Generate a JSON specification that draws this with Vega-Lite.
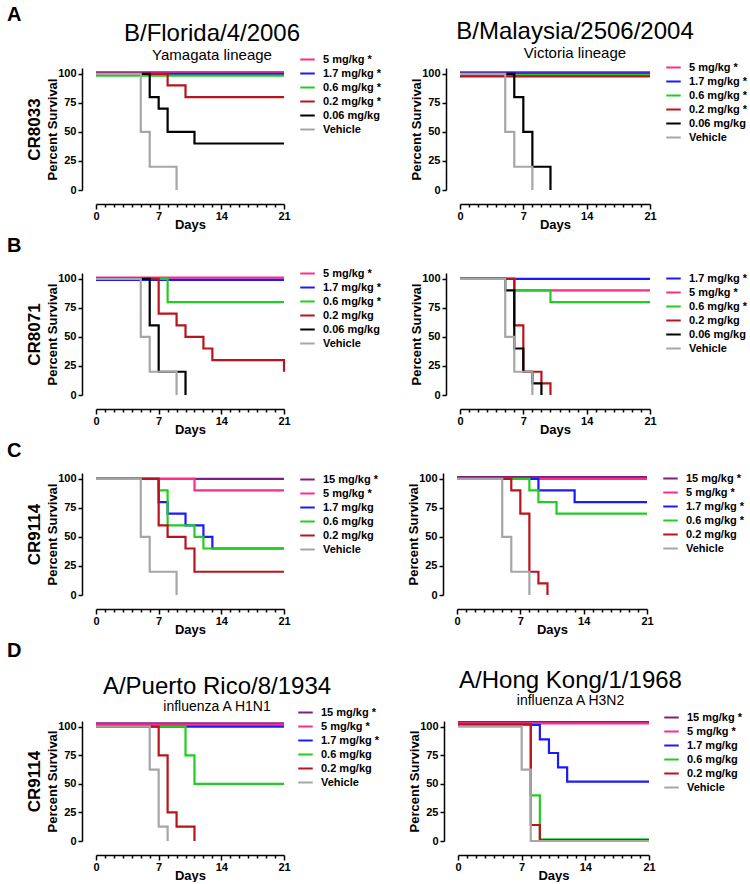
{
  "$schema": "https://vega.github.io/schema/vega-lite/v6.json",
  "background": "white",
  "padding": {"left": 7, "top": 5, "right": 0, "bottom": 0},
  "config": {
    "view": {"stroke": null},
    "font": "Liberation Sans",
    "axis": {"grid": false, "domainColor": "black", "domainWidth": 1.5, "tickColor": "black", "tickWidth": 1.5, "labelFont": "Liberation Sans", "labelFontWeight": "bold", "labelFontSize": 11, "labelColor": "black", "titleFont": "Liberation Sans", "titleFontWeight": "bold", "titleFontSize": 13, "titleColor": "black"},
    "legend": {"title": null, "orient": "none", "symbolType": "stroke", "symbolSize": 210, "symbolStrokeWidth": 2, "labelFont": "Liberation Sans", "labelFontWeight": "bold", "labelFontSize": 11, "labelColor": "black", "labelOffset": 7, "rowPadding": 0, "padding": 0},
    "title": {"font": "Liberation Sans", "color": "black", "subtitleFont": "Liberation Sans", "subtitleColor": "black"}
  },
  "datasets": {
    "km": [
      {"panel": "A1", "group": "5 mg/kg *", "day": 0, "pct": 101.5}, {"panel": "A1", "group": "5 mg/kg *", "day": 21, "pct": 101.5},
      {"panel": "A1", "group": "1.7 mg/kg *", "day": 0, "pct": 100}, {"panel": "A1", "group": "1.7 mg/kg *", "day": 21, "pct": 100},
      {"panel": "A1", "group": "0.6 mg/kg *", "day": 0, "pct": 98.5}, {"panel": "A1", "group": "0.6 mg/kg *", "day": 21, "pct": 98.5},
      {"panel": "A1", "group": "0.2 mg/kg *", "day": 0, "pct": 100}, {"panel": "A1", "group": "0.2 mg/kg *", "day": 8, "pct": 90}, {"panel": "A1", "group": "0.2 mg/kg *", "day": 10, "pct": 80}, {"panel": "A1", "group": "0.2 mg/kg *", "day": 21, "pct": 80},
      {"panel": "A1", "group": "0.06 mg/kg", "day": 0, "pct": 100}, {"panel": "A1", "group": "0.06 mg/kg", "day": 6, "pct": 80}, {"panel": "A1", "group": "0.06 mg/kg", "day": 7, "pct": 70}, {"panel": "A1", "group": "0.06 mg/kg", "day": 8, "pct": 50}, {"panel": "A1", "group": "0.06 mg/kg", "day": 11, "pct": 40}, {"panel": "A1", "group": "0.06 mg/kg", "day": 21, "pct": 40},
      {"panel": "A1", "group": "Vehicle", "day": 0, "pct": 100}, {"panel": "A1", "group": "Vehicle", "day": 5, "pct": 50}, {"panel": "A1", "group": "Vehicle", "day": 6, "pct": 20}, {"panel": "A1", "group": "Vehicle", "day": 9, "pct": 0},

      {"panel": "A2", "group": "5 mg/kg *", "day": 0, "pct": 101.5}, {"panel": "A2", "group": "5 mg/kg *", "day": 21, "pct": 101.5},
      {"panel": "A2", "group": "1.7 mg/kg *", "day": 0, "pct": 100.5}, {"panel": "A2", "group": "1.7 mg/kg *", "day": 21, "pct": 100.5},
      {"panel": "A2", "group": "0.6 mg/kg *", "day": 0, "pct": 99}, {"panel": "A2", "group": "0.6 mg/kg *", "day": 21, "pct": 99},
      {"panel": "A2", "group": "0.2 mg/kg *", "day": 0, "pct": 97.8}, {"panel": "A2", "group": "0.2 mg/kg *", "day": 21, "pct": 97.8},
      {"panel": "A2", "group": "0.06 mg/kg", "day": 0, "pct": 100}, {"panel": "A2", "group": "0.06 mg/kg", "day": 6, "pct": 80}, {"panel": "A2", "group": "0.06 mg/kg", "day": 7, "pct": 50}, {"panel": "A2", "group": "0.06 mg/kg", "day": 8, "pct": 20}, {"panel": "A2", "group": "0.06 mg/kg", "day": 10, "pct": 0},
      {"panel": "A2", "group": "Vehicle", "day": 0, "pct": 100}, {"panel": "A2", "group": "Vehicle", "day": 5, "pct": 50}, {"panel": "A2", "group": "Vehicle", "day": 6, "pct": 20}, {"panel": "A2", "group": "Vehicle", "day": 8, "pct": 0},

      {"panel": "B1", "group": "5 mg/kg *", "day": 0, "pct": 101}, {"panel": "B1", "group": "5 mg/kg *", "day": 21, "pct": 101},
      {"panel": "B1", "group": "1.7 mg/kg *", "day": 0, "pct": 99}, {"panel": "B1", "group": "1.7 mg/kg *", "day": 21, "pct": 99},
      {"panel": "B1", "group": "0.6 mg/kg *", "day": 0, "pct": 100}, {"panel": "B1", "group": "0.6 mg/kg *", "day": 8, "pct": 80}, {"panel": "B1", "group": "0.6 mg/kg *", "day": 21, "pct": 80},
      {"panel": "B1", "group": "0.2 mg/kg", "day": 0, "pct": 100}, {"panel": "B1", "group": "0.2 mg/kg", "day": 7, "pct": 70}, {"panel": "B1", "group": "0.2 mg/kg", "day": 9, "pct": 60}, {"panel": "B1", "group": "0.2 mg/kg", "day": 10, "pct": 50}, {"panel": "B1", "group": "0.2 mg/kg", "day": 12, "pct": 40}, {"panel": "B1", "group": "0.2 mg/kg", "day": 13, "pct": 30}, {"panel": "B1", "group": "0.2 mg/kg", "day": 21, "pct": 20},
      {"panel": "B1", "group": "0.06 mg/kg", "day": 0, "pct": 100}, {"panel": "B1", "group": "0.06 mg/kg", "day": 6, "pct": 60}, {"panel": "B1", "group": "0.06 mg/kg", "day": 7, "pct": 20}, {"panel": "B1", "group": "0.06 mg/kg", "day": 10, "pct": 0},
      {"panel": "B1", "group": "Vehicle", "day": 0, "pct": 100}, {"panel": "B1", "group": "Vehicle", "day": 5, "pct": 50}, {"panel": "B1", "group": "Vehicle", "day": 6, "pct": 20}, {"panel": "B1", "group": "Vehicle", "day": 9, "pct": 0},

      {"panel": "B2", "group": "1.7 mg/kg *", "day": 0, "pct": 100}, {"panel": "B2", "group": "1.7 mg/kg *", "day": 21, "pct": 100},
      {"panel": "B2", "group": "5 mg/kg *", "day": 0, "pct": 100}, {"panel": "B2", "group": "5 mg/kg *", "day": 6, "pct": 90}, {"panel": "B2", "group": "5 mg/kg *", "day": 21, "pct": 90},
      {"panel": "B2", "group": "0.6 mg/kg *", "day": 0, "pct": 100}, {"panel": "B2", "group": "0.6 mg/kg *", "day": 6, "pct": 90}, {"panel": "B2", "group": "0.6 mg/kg *", "day": 10, "pct": 80}, {"panel": "B2", "group": "0.6 mg/kg *", "day": 21, "pct": 80},
      {"panel": "B2", "group": "0.2 mg/kg", "day": 0, "pct": 100}, {"panel": "B2", "group": "0.2 mg/kg", "day": 6, "pct": 60}, {"panel": "B2", "group": "0.2 mg/kg", "day": 7, "pct": 20}, {"panel": "B2", "group": "0.2 mg/kg", "day": 9, "pct": 10}, {"panel": "B2", "group": "0.2 mg/kg", "day": 10, "pct": 0},
      {"panel": "B2", "group": "0.06 mg/kg", "day": 0, "pct": 100}, {"panel": "B2", "group": "0.06 mg/kg", "day": 5, "pct": 90}, {"panel": "B2", "group": "0.06 mg/kg", "day": 6, "pct": 40}, {"panel": "B2", "group": "0.06 mg/kg", "day": 7, "pct": 20}, {"panel": "B2", "group": "0.06 mg/kg", "day": 8, "pct": 10}, {"panel": "B2", "group": "0.06 mg/kg", "day": 9, "pct": 0},
      {"panel": "B2", "group": "Vehicle", "day": 0, "pct": 100}, {"panel": "B2", "group": "Vehicle", "day": 5, "pct": 50}, {"panel": "B2", "group": "Vehicle", "day": 6, "pct": 20}, {"panel": "B2", "group": "Vehicle", "day": 8, "pct": 0},

      {"panel": "C1", "group": "15 mg/kg *", "day": 0, "pct": 100}, {"panel": "C1", "group": "15 mg/kg *", "day": 21, "pct": 100},
      {"panel": "C1", "group": "5 mg/kg *", "day": 0, "pct": 100}, {"panel": "C1", "group": "5 mg/kg *", "day": 11, "pct": 90}, {"panel": "C1", "group": "5 mg/kg *", "day": 21, "pct": 90},
      {"panel": "C1", "group": "1.7 mg/kg", "day": 0, "pct": 100}, {"panel": "C1", "group": "1.7 mg/kg", "day": 7, "pct": 80}, {"panel": "C1", "group": "1.7 mg/kg", "day": 8, "pct": 70}, {"panel": "C1", "group": "1.7 mg/kg", "day": 10, "pct": 60}, {"panel": "C1", "group": "1.7 mg/kg", "day": 12, "pct": 50}, {"panel": "C1", "group": "1.7 mg/kg", "day": 13, "pct": 40}, {"panel": "C1", "group": "1.7 mg/kg", "day": 21, "pct": 40},
      {"panel": "C1", "group": "0.6 mg/kg", "day": 0, "pct": 100}, {"panel": "C1", "group": "0.6 mg/kg", "day": 7, "pct": 90}, {"panel": "C1", "group": "0.6 mg/kg", "day": 8, "pct": 60}, {"panel": "C1", "group": "0.6 mg/kg", "day": 11, "pct": 50}, {"panel": "C1", "group": "0.6 mg/kg", "day": 12, "pct": 40}, {"panel": "C1", "group": "0.6 mg/kg", "day": 21, "pct": 40},
      {"panel": "C1", "group": "0.2 mg/kg", "day": 0, "pct": 100}, {"panel": "C1", "group": "0.2 mg/kg", "day": 7, "pct": 60}, {"panel": "C1", "group": "0.2 mg/kg", "day": 8, "pct": 50}, {"panel": "C1", "group": "0.2 mg/kg", "day": 10, "pct": 40}, {"panel": "C1", "group": "0.2 mg/kg", "day": 11, "pct": 20}, {"panel": "C1", "group": "0.2 mg/kg", "day": 21, "pct": 20},
      {"panel": "C1", "group": "Vehicle", "day": 0, "pct": 100}, {"panel": "C1", "group": "Vehicle", "day": 5, "pct": 50}, {"panel": "C1", "group": "Vehicle", "day": 6, "pct": 20}, {"panel": "C1", "group": "Vehicle", "day": 9, "pct": 0},

      {"panel": "C2", "group": "15 mg/kg *", "day": 0, "pct": 101.5}, {"panel": "C2", "group": "15 mg/kg *", "day": 21, "pct": 101.5},
      {"panel": "C2", "group": "5 mg/kg *", "day": 0, "pct": 100}, {"panel": "C2", "group": "5 mg/kg *", "day": 21, "pct": 100},
      {"panel": "C2", "group": "1.7 mg/kg *", "day": 0, "pct": 100}, {"panel": "C2", "group": "1.7 mg/kg *", "day": 9, "pct": 90}, {"panel": "C2", "group": "1.7 mg/kg *", "day": 13, "pct": 80}, {"panel": "C2", "group": "1.7 mg/kg *", "day": 21, "pct": 80},
      {"panel": "C2", "group": "0.6 mg/kg *", "day": 0, "pct": 100}, {"panel": "C2", "group": "0.6 mg/kg *", "day": 8, "pct": 90}, {"panel": "C2", "group": "0.6 mg/kg *", "day": 9, "pct": 80}, {"panel": "C2", "group": "0.6 mg/kg *", "day": 11, "pct": 70}, {"panel": "C2", "group": "0.6 mg/kg *", "day": 21, "pct": 70},
      {"panel": "C2", "group": "0.2 mg/kg", "day": 0, "pct": 100}, {"panel": "C2", "group": "0.2 mg/kg", "day": 6, "pct": 90}, {"panel": "C2", "group": "0.2 mg/kg", "day": 7, "pct": 70}, {"panel": "C2", "group": "0.2 mg/kg", "day": 8, "pct": 20}, {"panel": "C2", "group": "0.2 mg/kg", "day": 9, "pct": 10}, {"panel": "C2", "group": "0.2 mg/kg", "day": 10, "pct": 0},
      {"panel": "C2", "group": "Vehicle", "day": 0, "pct": 100}, {"panel": "C2", "group": "Vehicle", "day": 5, "pct": 50}, {"panel": "C2", "group": "Vehicle", "day": 6, "pct": 20}, {"panel": "C2", "group": "Vehicle", "day": 8, "pct": 0},

      {"panel": "D1", "group": "15 mg/kg *", "day": 0, "pct": 103}, {"panel": "D1", "group": "15 mg/kg *", "day": 21, "pct": 103},
      {"panel": "D1", "group": "5 mg/kg *", "day": 0, "pct": 101.8}, {"panel": "D1", "group": "5 mg/kg *", "day": 21, "pct": 101.8},
      {"panel": "D1", "group": "1.7 mg/kg *", "day": 0, "pct": 100}, {"panel": "D1", "group": "1.7 mg/kg *", "day": 21, "pct": 100},
      {"panel": "D1", "group": "0.6 mg/kg", "day": 0, "pct": 100}, {"panel": "D1", "group": "0.6 mg/kg", "day": 10, "pct": 75}, {"panel": "D1", "group": "0.6 mg/kg", "day": 11, "pct": 50}, {"panel": "D1", "group": "0.6 mg/kg", "day": 21, "pct": 50},
      {"panel": "D1", "group": "0.2 mg/kg", "day": 0, "pct": 100}, {"panel": "D1", "group": "0.2 mg/kg", "day": 7, "pct": 75}, {"panel": "D1", "group": "0.2 mg/kg", "day": 8, "pct": 25}, {"panel": "D1", "group": "0.2 mg/kg", "day": 9, "pct": 12.5}, {"panel": "D1", "group": "0.2 mg/kg", "day": 11, "pct": 0},
      {"panel": "D1", "group": "Vehicle", "day": 0, "pct": 100}, {"panel": "D1", "group": "Vehicle", "day": 6, "pct": 62.5}, {"panel": "D1", "group": "Vehicle", "day": 7, "pct": 12.5}, {"panel": "D1", "group": "Vehicle", "day": 8, "pct": 0},

      {"panel": "D2", "group": "15 mg/kg *", "day": 0, "pct": 104}, {"panel": "D2", "group": "15 mg/kg *", "day": 21, "pct": 104},
      {"panel": "D2", "group": "5 mg/kg *", "day": 0, "pct": 103}, {"panel": "D2", "group": "5 mg/kg *", "day": 21, "pct": 103},
      {"panel": "D2", "group": "1.7 mg/kg", "day": 0, "pct": 101.5}, {"panel": "D2", "group": "1.7 mg/kg", "day": 9, "pct": 89}, {"panel": "D2", "group": "1.7 mg/kg", "day": 10, "pct": 77}, {"panel": "D2", "group": "1.7 mg/kg", "day": 11, "pct": 64.5}, {"panel": "D2", "group": "1.7 mg/kg", "day": 12, "pct": 52}, {"panel": "D2", "group": "1.7 mg/kg", "day": 21, "pct": 52},
      {"panel": "D2", "group": "0.6 mg/kg", "day": 0, "pct": 101.5}, {"panel": "D2", "group": "0.6 mg/kg", "day": 8, "pct": 40}, {"panel": "D2", "group": "0.6 mg/kg", "day": 9, "pct": 1.5}, {"panel": "D2", "group": "0.6 mg/kg", "day": 21, "pct": 1.5},
      {"panel": "D2", "group": "0.2 mg/kg", "day": 0, "pct": 102}, {"panel": "D2", "group": "0.2 mg/kg", "day": 8, "pct": 14}, {"panel": "D2", "group": "0.2 mg/kg", "day": 9, "pct": 0.8}, {"panel": "D2", "group": "0.2 mg/kg", "day": 21, "pct": 0.8},
      {"panel": "D2", "group": "Vehicle", "day": 0, "pct": 100}, {"panel": "D2", "group": "Vehicle", "day": 7, "pct": 62.5}, {"panel": "D2", "group": "Vehicle", "day": 8, "pct": 0}, {"panel": "D2", "group": "Vehicle", "day": 21, "pct": 0}
    ]
  },
  "data": {"name": "km"},
  "resolve": {"scale": {"color": "independent", "x": "independent", "y": "independent"}, "legend": {"color": "independent"}},
  "spacing": 5,
  "vconcat": [
    {
      "title": {"text": "A", "anchor": "start", "fontSize": 20, "fontWeight": "bold", "offset": -5, "dx": -18},
      "resolve": {"scale": {"color": "independent", "x": "independent", "y": "independent"}, "legend": {"color": "independent"}},
      "spacing": 28,
      "hconcat": [
        {
          "width": 188, "height": 122,
          "title": {"text": "B/Florida/4/2006", "subtitle": "Yamagata lineage", "fontSize": 24, "fontWeight": "normal", "subtitleFontSize": 15, "anchor": "middle", "frame": "group", "dx": 22, "offset": -12, "subtitlePadding": 2},
          "transform": [{"filter": "datum.panel === 'A1'"}],
          "layer": [
            {
              "mark": {"type": "line", "interpolate": "step-after", "strokeWidth": 2.2},
              "encoding": {
                "x": {"field": "day", "type": "quantitative", "scale": {"domain": [0, 21], "nice": false}, "axis": {"values": [0,1,2,3,4,5,6,7,8,9,10,11,12,13,14,15,16,17,18,19,20,21], "labelExpr": "datum.value % 7 === 0 ? datum.label : ''", "tickSize": {"condition": {"test": "datum.value % 7 === 0", "value": 5}, "value": 3}, "title": "Days", "labelOverlap": false, "labelFlush": false, "offset": 14, "titlePadding": -3, "labelPadding": 1}},
                "y": {"field": "pct", "type": "quantitative", "scale": {"domain": [0, 105], "nice": false}, "axis": {"values": [0, 25, 50, 75, 100], "title": "Percent Survival", "tickSize": 4, "labelPadding": 2, "offset": 14, "titlePadding": -2}},
                "color": {"field": "group", "type": "nominal", "scale": {"domain": ["5 mg/kg *", "1.7 mg/kg *", "0.6 mg/kg *", "0.2 mg/kg *", "0.06 mg/kg", "Vehicle"], "range": ["#FF2D87", "#1A1AFF", "#22CC22", "#B8141C", "#000000", "#A6A6A6"]}, "legend": {"legendX": 203, "legendY": -17}}
              }
            },
            {
              "mark": {"type": "point", "opacity": 0},
              "encoding": {"y": {"field": "pct", "type": "quantitative", "scale": {"domain": [0, 105], "nice": false}, "axis": {"orient": "left", "title": "CR8033", "titleFontSize": 17, "labels": false, "ticks": false, "domain": false, "offset": 0, "titlePadding": 53}}}
            }
          ],
          "resolve": {"scale": {"y": "independent"}}
        },
        {
          "width": 190, "height": 122,
          "title": {"text": "B/Malaysia/2506/2004", "subtitle": "Victoria lineage", "fontSize": 24, "fontWeight": "normal", "subtitleFontSize": 15, "anchor": "middle", "frame": "group", "dx": 20, "offset": -2, "subtitlePadding": 2},
          "transform": [{"filter": "datum.panel === 'A2'"}],
          "mark": {"type": "line", "interpolate": "step-after", "strokeWidth": 2.2},
          "encoding": {
            "x": {"field": "day", "type": "quantitative", "scale": {"domain": [0, 21], "nice": false}, "axis": {"values": [0,1,2,3,4,5,6,7,8,9,10,11,12,13,14,15,16,17,18,19,20,21], "labelExpr": "datum.value % 7 === 0 ? datum.label : ''", "tickSize": {"condition": {"test": "datum.value % 7 === 0", "value": 5}, "value": 3}, "title": "Days", "labelOverlap": false, "labelFlush": false, "offset": 14, "titlePadding": -3, "labelPadding": 1}},
            "y": {"field": "pct", "type": "quantitative", "scale": {"domain": [0, 105], "nice": false}, "axis": {"values": [0, 25, 50, 75, 100], "title": "Percent Survival", "tickSize": 4, "labelPadding": 2, "offset": 14, "titlePadding": -2}},
            "color": {"field": "group", "type": "nominal", "scale": {"domain": ["5 mg/kg *", "1.7 mg/kg *", "0.6 mg/kg *", "0.2 mg/kg *", "0.06 mg/kg", "Vehicle"], "range": ["#FF2D87", "#1A1AFF", "#22CC22", "#B8141C", "#000000", "#A6A6A6"]}, "legend": {"legendX": 205, "legendY": -9}}
          }
        }
      ]
    },
    {
      "title": {"text": "B", "anchor": "start", "fontSize": 20, "fontWeight": "bold", "offset": 9, "dx": -18},
      "resolve": {"scale": {"color": "independent", "x": "independent", "y": "independent"}, "legend": {"color": "independent"}},
      "spacing": 28,
      "hconcat": [
        {
          "width": 188, "height": 122,
          "transform": [{"filter": "datum.panel === 'B1'"}],
          "layer": [
            {
              "mark": {"type": "line", "interpolate": "step-after", "strokeWidth": 2.2},
              "encoding": {
                "x": {"field": "day", "type": "quantitative", "scale": {"domain": [0, 21], "nice": false}, "axis": {"values": [0,1,2,3,4,5,6,7,8,9,10,11,12,13,14,15,16,17,18,19,20,21], "labelExpr": "datum.value % 7 === 0 ? datum.label : ''", "tickSize": {"condition": {"test": "datum.value % 7 === 0", "value": 5}, "value": 3}, "title": "Days", "labelOverlap": false, "labelFlush": false, "offset": 14, "titlePadding": -3, "labelPadding": 1}},
                "y": {"field": "pct", "type": "quantitative", "scale": {"domain": [0, 105], "nice": false}, "axis": {"values": [0, 25, 50, 75, 100], "title": "Percent Survival", "tickSize": 4, "labelPadding": 2, "offset": 14, "titlePadding": -2}},
                "color": {"field": "group", "type": "nominal", "scale": {"domain": ["5 mg/kg *", "1.7 mg/kg *", "0.6 mg/kg *", "0.2 mg/kg", "0.06 mg/kg", "Vehicle"], "range": ["#FF2D87", "#1A1AFF", "#22CC22", "#B8141C", "#000000", "#A6A6A6"]}, "legend": {"legendX": 203, "legendY": -8}}
              }
            },
            {
              "mark": {"type": "point", "opacity": 0},
              "encoding": {"y": {"field": "pct", "type": "quantitative", "scale": {"domain": [0, 105], "nice": false}, "axis": {"orient": "left", "title": "CR8071", "titleFontSize": 17, "labels": false, "ticks": false, "domain": false, "offset": 0, "titlePadding": 53}}}
            }
          ],
          "resolve": {"scale": {"y": "independent"}}
        },
        {
          "width": 190, "height": 122,
          "transform": [{"filter": "datum.panel === 'B2'"}],
          "mark": {"type": "line", "interpolate": "step-after", "strokeWidth": 2.2},
          "encoding": {
            "x": {"field": "day", "type": "quantitative", "scale": {"domain": [0, 21], "nice": false}, "axis": {"values": [0,1,2,3,4,5,6,7,8,9,10,11,12,13,14,15,16,17,18,19,20,21], "labelExpr": "datum.value % 7 === 0 ? datum.label : ''", "tickSize": {"condition": {"test": "datum.value % 7 === 0", "value": 5}, "value": 3}, "title": "Days", "labelOverlap": false, "labelFlush": false, "offset": 14, "titlePadding": -3, "labelPadding": 1}},
            "y": {"field": "pct", "type": "quantitative", "scale": {"domain": [0, 105], "nice": false}, "axis": {"values": [0, 25, 50, 75, 100], "title": "Percent Survival", "tickSize": 4, "labelPadding": 2, "offset": 14, "titlePadding": -2}},
            "color": {"field": "group", "type": "nominal", "scale": {"domain": ["1.7 mg/kg *", "5 mg/kg *", "0.6 mg/kg *", "0.2 mg/kg", "0.06 mg/kg", "Vehicle"], "range": ["#1A1AFF", "#FF2D87", "#22CC22", "#B8141C", "#000000", "#A6A6A6"]}, "legend": {"legendX": 205, "legendY": -3}}
          }
        }
      ]
    },
    {
      "title": {"text": "C", "anchor": "start", "fontSize": 20, "fontWeight": "bold", "offset": 9, "dx": -18},
      "resolve": {"scale": {"color": "independent", "x": "independent", "y": "independent"}, "legend": {"color": "independent"}},
      "spacing": 28,
      "hconcat": [
        {
          "width": 188, "height": 122,
          "transform": [{"filter": "datum.panel === 'C1'"}],
          "layer": [
            {
              "mark": {"type": "line", "interpolate": "step-after", "strokeWidth": 2.2},
              "encoding": {
                "x": {"field": "day", "type": "quantitative", "scale": {"domain": [0, 21], "nice": false}, "axis": {"values": [0,1,2,3,4,5,6,7,8,9,10,11,12,13,14,15,16,17,18,19,20,21], "labelExpr": "datum.value % 7 === 0 ? datum.label : ''", "tickSize": {"condition": {"test": "datum.value % 7 === 0", "value": 5}, "value": 3}, "title": "Days", "labelOverlap": false, "labelFlush": false, "offset": 14, "titlePadding": -3, "labelPadding": 1}},
                "y": {"field": "pct", "type": "quantitative", "scale": {"domain": [0, 105], "nice": false}, "axis": {"values": [0, 25, 50, 75, 100], "title": "Percent Survival", "tickSize": 4, "labelPadding": 2, "offset": 14, "titlePadding": -2}},
                "color": {"field": "group", "type": "nominal", "scale": {"domain": ["15 mg/kg *", "5 mg/kg *", "1.7 mg/kg", "0.6 mg/kg", "0.2 mg/kg", "Vehicle"], "range": ["#7E1E80", "#FF2D87", "#1A1AFF", "#22CC22", "#B8141C", "#A6A6A6"]}, "legend": {"legendX": 203, "legendY": -2}}
              }
            },
            {
              "mark": {"type": "point", "opacity": 0},
              "encoding": {"y": {"field": "pct", "type": "quantitative", "scale": {"domain": [0, 105], "nice": false}, "axis": {"orient": "left", "title": "CR9114", "titleFontSize": 17, "labels": false, "ticks": false, "domain": false, "offset": 0, "titlePadding": 53}}}
            }
          ],
          "resolve": {"scale": {"y": "independent"}}
        },
        {
          "width": 190, "height": 122,
          "transform": [{"filter": "datum.panel === 'C2'"}],
          "mark": {"type": "line", "interpolate": "step-after", "strokeWidth": 2.2},
          "encoding": {
            "x": {"field": "day", "type": "quantitative", "scale": {"domain": [0, 21], "nice": false}, "axis": {"values": [0,1,2,3,4,5,6,7,8,9,10,11,12,13,14,15,16,17,18,19,20,21], "labelExpr": "datum.value % 7 === 0 ? datum.label : ''", "tickSize": {"condition": {"test": "datum.value % 7 === 0", "value": 5}, "value": 3}, "title": "Days", "labelOverlap": false, "labelFlush": false, "offset": 14, "titlePadding": -3, "labelPadding": 1}},
            "y": {"field": "pct", "type": "quantitative", "scale": {"domain": [0, 105], "nice": false}, "axis": {"values": [0, 25, 50, 75, 100], "title": "Percent Survival", "tickSize": 4, "labelPadding": 2, "offset": 14, "titlePadding": -2}},
            "color": {"field": "group", "type": "nominal", "scale": {"domain": ["15 mg/kg *", "5 mg/kg *", "1.7 mg/kg *", "0.6 mg/kg *", "0.2 mg/kg", "Vehicle"], "range": ["#7E1E80", "#FF2D87", "#1A1AFF", "#22CC22", "#B8141C", "#A6A6A6"]}, "legend": {"legendX": 205, "legendY": -3}}
          }
        }
      ]
    },
    {
      "title": {"text": "D", "anchor": "start", "fontSize": 20, "fontWeight": "bold", "offset": 8, "dx": -18},
      "resolve": {"scale": {"color": "independent", "x": "independent", "y": "independent"}, "legend": {"color": "independent"}},
      "spacing": 28,
      "hconcat": [
        {
          "width": 188, "height": 120,
          "title": {"text": "A/Puerto Rico/8/1934", "subtitle": "influenza A H1N1", "fontSize": 24, "fontWeight": "normal", "subtitleFontSize": 14, "anchor": "middle", "frame": "group", "dx": 27, "offset": -10, "subtitlePadding": 1},
          "transform": [{"filter": "datum.panel === 'D1'"}],
          "layer": [
            {
              "mark": {"type": "line", "interpolate": "step-after", "strokeWidth": 2.2},
              "encoding": {
                "x": {"field": "day", "type": "quantitative", "scale": {"domain": [0, 21], "nice": false}, "axis": {"values": [0,1,2,3,4,5,6,7,8,9,10,11,12,13,14,15,16,17,18,19,20,21], "labelExpr": "datum.value % 7 === 0 ? datum.label : ''", "tickSize": {"condition": {"test": "datum.value % 7 === 0", "value": 5}, "value": 3}, "title": "Days", "labelOverlap": false, "labelFlush": false, "offset": 14, "titlePadding": -3, "labelPadding": 1}},
                "y": {"field": "pct", "type": "quantitative", "scale": {"domain": [0, 105], "nice": false}, "axis": {"values": [0, 25, 50, 75, 100], "title": "Percent Survival", "tickSize": 4, "labelPadding": 2, "offset": 14, "titlePadding": -2}},
                "color": {"field": "group", "type": "nominal", "scale": {"domain": ["15 mg/kg *", "5 mg/kg *", "1.7 mg/kg *", "0.6 mg/kg", "0.2 mg/kg", "Vehicle"], "range": ["#7E1E80", "#FF2D87", "#1A1AFF", "#22CC22", "#B8141C", "#A6A6A6"]}, "legend": {"legendX": 201, "legendY": -17}}
              }
            },
            {
              "mark": {"type": "point", "opacity": 0},
              "encoding": {"y": {"field": "pct", "type": "quantitative", "scale": {"domain": [0, 105], "nice": false}, "axis": {"orient": "left", "title": "CR9114", "titleFontSize": 17, "labels": false, "ticks": false, "domain": false, "offset": 0, "titlePadding": 53}}}
            }
          ],
          "resolve": {"scale": {"y": "independent"}}
        },
        {
          "width": 191, "height": 120,
          "title": {"text": "A/Hong Kong/1/1968", "subtitle": "influenza A H3N2", "fontSize": 24, "fontWeight": "normal", "subtitleFontSize": 14, "anchor": "middle", "frame": "group", "dx": 17, "offset": 1, "subtitlePadding": 1},
          "transform": [{"filter": "datum.panel === 'D2'"}],
          "mark": {"type": "line", "interpolate": "step-after", "strokeWidth": 2.2},
          "encoding": {
            "x": {"field": "day", "type": "quantitative", "scale": {"domain": [0, 21], "nice": false}, "axis": {"values": [0,1,2,3,4,5,6,7,8,9,10,11,12,13,14,15,16,17,18,19,20,21], "labelExpr": "datum.value % 7 === 0 ? datum.label : ''", "tickSize": {"condition": {"test": "datum.value % 7 === 0", "value": 5}, "value": 3}, "title": "Days", "labelOverlap": false, "labelFlush": false, "offset": 14, "titlePadding": -3, "labelPadding": 1}},
            "y": {"field": "pct", "type": "quantitative", "scale": {"domain": [0, 105], "nice": false}, "axis": {"values": [0, 25, 50, 75, 100], "title": "Percent Survival", "tickSize": 4, "labelPadding": 2, "offset": 14, "titlePadding": -2}},
            "color": {"field": "group", "type": "nominal", "scale": {"domain": ["15 mg/kg *", "5 mg/kg *", "1.7 mg/kg", "0.6 mg/kg", "0.2 mg/kg", "Vehicle"], "range": ["#7E1E80", "#FF2D87", "#1A1AFF", "#22CC22", "#B8141C", "#A6A6A6"]}, "legend": {"legendX": 205, "legendY": -12}}
          }
        }
      ]
    }
  ]
}
